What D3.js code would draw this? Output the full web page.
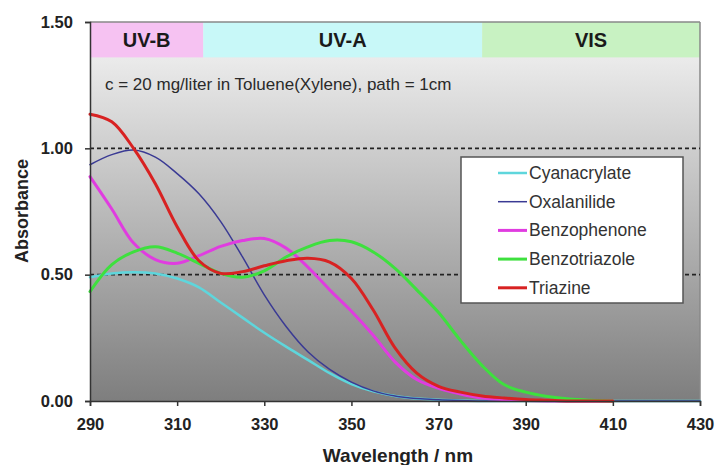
<!DOCTYPE html>
<html><head><meta charset="utf-8">
<script src="https://cdn.jsdelivr.net/npm/d3@7"></script>
<style>html,body{margin:0;padding:0;background:#fff;}svg{display:block;font-family:"Liberation Sans",Arial,sans-serif;}</style>
</head><body>
<svg id="c" width="716" height="465"></svg>
<script>
const wavelengths = [290,295,300,305,310,315,320,325,330,335,340,345,350,355,360,365,370,375,380,385,390,395,400,405,410,415,420,425,430];
const cyanacrylate = [0.49,0.505,0.51,0.505,0.485,0.45,0.39,0.33,0.27,0.215,0.163,0.11,0.067,0.038,0.02,0.01,0.005,0.002,0,0,0,0,0,0,0,0,0,0,0];
const oxalanilide = [0.935,0.975,0.993,0.965,0.90,0.82,0.71,0.57,0.42,0.295,0.195,0.125,0.075,0.04,0.02,0.01,0.005,0.002,0,0,0,0,0,0,0,0,0,0,0];
const benzophenone = [0.888,0.76,0.625,0.56,0.545,0.575,0.612,0.635,0.643,0.605,0.53,0.44,0.355,0.26,0.155,0.085,0.05,0.028,0.012,0.006,0.002,0,0,0,0,null,null,null,null];
const benzotriazole = [0.433,0.54,0.59,0.61,0.585,0.545,0.505,0.49,0.515,0.57,0.61,0.635,0.63,0.59,0.525,0.44,0.35,0.24,0.14,0.065,0.035,0.018,0.008,0.003,0,null,null,null,null];
const triazine = [1.135,1.105,1.0,0.86,0.69,0.555,0.505,0.512,0.535,0.555,0.565,0.55,0.485,0.36,0.21,0.11,0.058,0.035,0.02,0.012,0.006,0.003,0,0,0,null,null,null,null];
const seriesNames = ["Cyanacrylate","Oxalanilide","Benzophenone","Benzotriazole","Triazine"];
const seriesColors = ["#5ed6dc","#3a3a94","#e03ce0","#3ee03e","#d82222"];
const seriesWidths = [2.5,1.5,3,3,3];
const bandNames = ["UV-B","UV-A","VIS"];
const bandStarts = [290,316,380];
const bandEnds = [316,380,430];
const bandColors = ["#f6c2f2","#c8f8f8","#c8f2c2"];
const bandBottom = 1.36;
const xTicks = [290,310,330,350,370,390,410,430];
const yTicks = [0,0.5,1.0,1.5];
const gridValues = [0.5,1.0];
const annotation = "c = 20 mg/liter in Toluene(Xylene), path = 1cm";

const svg = d3.select("#c");
const m = {l:90, t:22, r:16, b:64};
const W = 716 - m.l - m.r, H = 465 - m.t - m.b;
const x = d3.scaleLinear().domain([290,430]).range([0,W]);
const y = d3.scaleLinear().domain([0,1.5]).range([H,0]).clamp(true);
const g = svg.append("g").attr("transform",`translate(${m.l},${m.t})`);

const defs = svg.append("defs");
const gr = defs.append("linearGradient").attr("id","bg").attr("x1",0).attr("y1",0).attr("x2",0).attr("y2",1);
gr.append("stop").attr("offset","0%").attr("stop-color","#f6f6f6");
gr.append("stop").attr("offset","100%").attr("stop-color","#7e7e7e");

g.append("rect").attr("x",0).attr("y",0).attr("width",W).attr("height",H).attr("fill","url(#bg)");

// bands
bandNames.forEach((n,i)=>{
  g.append("rect").attr("x",x(bandStarts[i])).attr("y",y(1.5))
   .attr("width",x(bandEnds[i])-x(bandStarts[i])).attr("height",y(bandBottom)-y(1.5))
   .attr("fill",bandColors[i]);
  g.append("text").attr("x",(x(bandStarts[i])+x(bandEnds[i]))/2).attr("y",(y(1.5)+y(bandBottom))/2+7)
   .attr("text-anchor","middle").attr("font-weight","bold").attr("font-size",20).attr("fill","#1a1a1a").text(n);
});

// border
g.append("line").attr("x1",0).attr("x2",W).attr("y1",0).attr("y2",0).attr("stroke","#888").attr("stroke-width",1.5);
g.append("line").attr("x1",W).attr("x2",W).attr("y1",0).attr("y2",H).attr("stroke","#888").attr("stroke-width",1.5);

// gridlines
gridValues.forEach(v=>{
  g.append("line").attr("x1",0).attr("x2",W).attr("y1",y(v)).attr("y2",y(v))
   .attr("stroke","#222").attr("stroke-width",1.6).attr("stroke-dasharray","4,3");
});

// annotation
g.append("text").attr("x",15).attr("y",68).attr("font-size",17).attr("fill","#2a2a2a").text(annotation);

// lines
const series = [cyanacrylate,oxalanilide,benzophenone,benzotriazole,triazine];
const line = d3.line().defined(d=>d[1]!==null).x(d=>x(d[0])).y(d=>y(d[1])).curve(d3.curveCatmullRom.alpha(0.5));
series.forEach((s,i)=>{
  g.append("path").datum(wavelengths.map((w,j)=>[w,s[j]]))
   .attr("d",line).attr("fill","none").attr("stroke",seriesColors[i]).attr("stroke-width",seriesWidths[i])
   .attr("stroke-linejoin","round").attr("stroke-linecap","round");
});

// legend
const lg = g.append("g").attr("transform",`translate(${461-m.l},${157-m.t})`);
lg.append("rect").attr("x",0).attr("y",0).attr("width",222).attr("height",146).attr("fill","#fff").attr("stroke","#555").attr("stroke-width",1.5);
seriesNames.forEach((n,i)=>{
  const yy = 16 + i*28.7;
  lg.append("line").attr("x1",37).attr("x2",66).attr("y1",yy).attr("y2",yy).attr("stroke",seriesColors[i]).attr("stroke-width",seriesWidths[i]);
  lg.append("text").attr("x",68).attr("y",yy+6).attr("font-size",17.5).attr("fill","#333").text(n);
});

// axes
const xa = g.append("g").attr("transform",`translate(0,${H})`).call(d3.axisBottom(x).tickValues(xTicks).tickSize(5).tickFormat(d3.format("d")));
const ya = g.append("g").call(d3.axisLeft(y).tickValues(yTicks).tickSize(5).tickFormat(d3.format(".2f")));
[xa,ya].forEach(a=>{
  a.select(".domain").attr("stroke","#333").attr("stroke-width",1.5);
  a.selectAll(".tick line").attr("stroke","#333").attr("stroke-width",1.5);
  a.selectAll(".tick text").attr("font-size",16.5).attr("font-weight","bold").attr("fill","#222").attr("font-family","'Liberation Sans',Arial,sans-serif");
});
xa.selectAll(".tick text").attr("dy","1.25em");
ya.selectAll(".tick text").attr("dx","-0.55em");

// titles
svg.append("text").attr("x",398).attr("y",462).attr("text-anchor","middle").attr("font-weight","bold").attr("font-size",19).attr("fill","#222").text("Wavelength / nm");
svg.append("text").attr("transform","translate(28,211) rotate(-90)").attr("text-anchor","middle").attr("font-weight","bold").attr("font-size",18).attr("fill","#222").text("Absorbance");
</script>
</body></html>
